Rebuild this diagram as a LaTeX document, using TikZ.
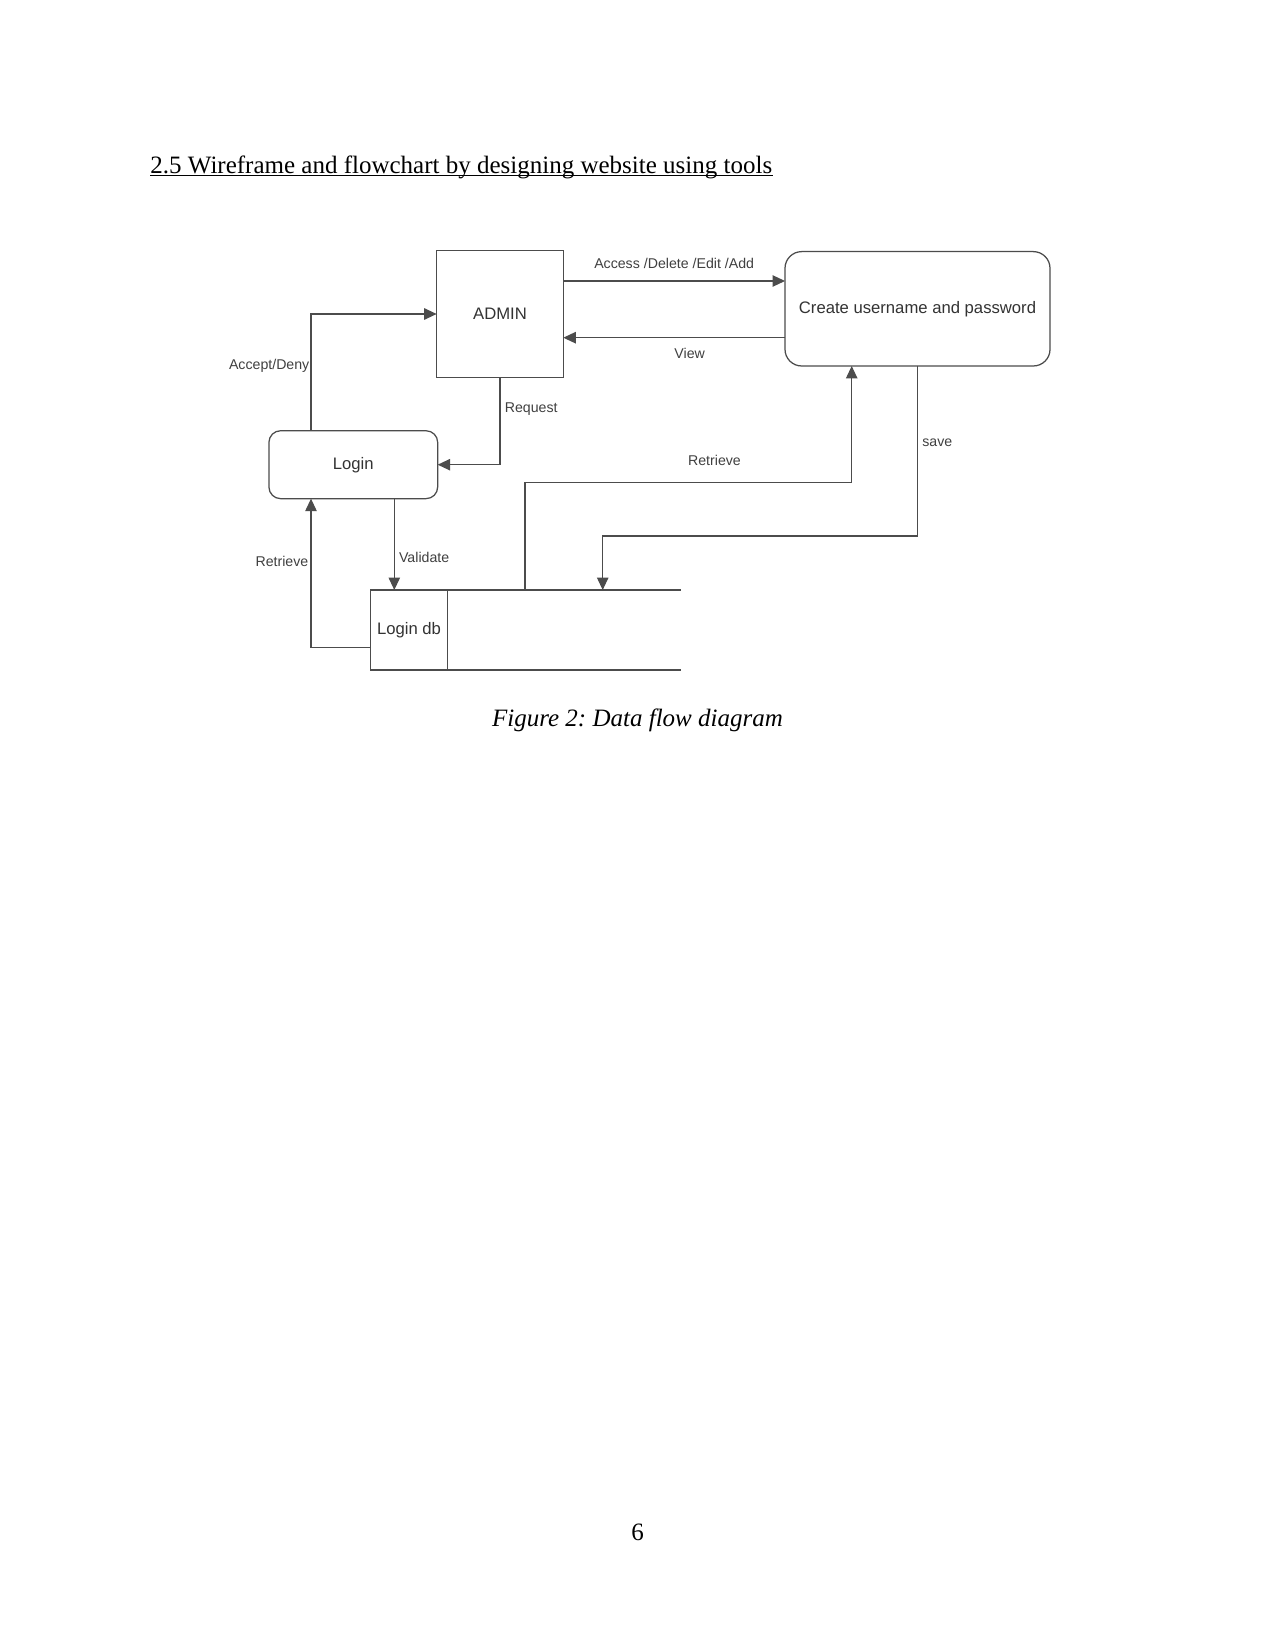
\documentclass[tikz,border=0pt]{standalone}
\usepackage{fontspec}
\setmainfont{Liberation Serif}
\newfontfamily\diagfont{Liberation Sans}
\usetikzlibrary{arrows.meta}
\frenchspacing

\begin{document}
\begin{tikzpicture}[x=0.48pt, y=-0.48pt, >={Triangle[length=6pt,width=5.5pt]}]
  \tikzstyle{line} = [draw=black!70, line width=0.6pt]
  \tikzstyle{arr}  = [line, ->]
  \tikzstyle{box}  = [line, inner sep=0pt, outer sep=0pt, align=center,
                      font=\diagfont\fontsize{8}{9.5}\selectfont, text=black!80]
  \tikzstyle{lbl}  = [font=\diagfont\fontsize{6.8}{8}\selectfont, text=black!75]

  % page
  \useasboundingbox[fill=white] (0,0) rectangle (1275,1650);

  \node[anchor=base west, inner sep=0pt, font=\fontsize{12}{14}\selectfont] (title)
    at (150,173.3) {2.5 Wireframe and flowchart by designing website using tools};
  \draw[line width=0.55pt] ([yshift=-1.1pt]title.base west) -- ([yshift=-1.1pt]title.base east);

  % blocks
  \node[box, minimum width=60.8pt, minimum height=60.8pt] (admin) at (500,314) {ADMIN};
  \node[box, rounded corners=8pt, minimum width=127.2pt, minimum height=54.9pt]
    (create) at (917.5,308.8) {Create username and password};
  \node[box, rounded corners=5.6pt, minimum width=81pt, minimum height=32.6pt]
    (login) at (353.3,464.7) {Login};
  \node[box, minimum width=36.8pt, minimum height=38.4pt] (db) at (409,630) {Login db};

  % open data store
  \coordinate (dbend) at (680.7,630);
  \coordinate (dbout) at (525,590);
  \coordinate (dbin) at (602.7,590);
  \draw[line] (db.north east) -- (dbend |- db.north);
  \draw[line] (db.south east) -- (dbend |- db.south);

  % admin <-> create
  \draw[arr] (admin.east |- 0,281) -- node[lbl, above=2.5pt] {Access /Delete /Edit /Add} (create.west |- 0,281);
  \draw[arr] (create.west |- 0,337.7) -- node[lbl, pos=0.43, below=1.5pt] {View} (admin.east |- 0,337.7);

  % login <-> admin
  \draw[arr] (login.north -| 311,0) |- node[lbl, pos=0.28, left, inner sep=0.5pt] {Accept/Deny} (admin.west);
  \draw[arr] (admin.south) |- node[lbl, pos=0.18, right, inner sep=2pt] {Request} (login.east);

  % login <-> db
  \draw[arr] (login.south -| 394.3,0) -- node[lbl, pos=0.64, right, inner sep=2pt] {Validate} (db.north -| 394.3,0);
  \draw[arr] (db.west |- 0,647.7) -| node[lbl, pos=0.79, left, inner sep=1pt] {Retrieve} (login.south -| 311,0);

  % db <-> create
  \draw[arr] (dbout) -- (dbout |- 0,482.3) -| node[lbl, pos=0.29, above=4.5pt] {Retrieve} (create.south -| 851.7,0);
  \draw[arr] (create.south) |- node[lbl, pos=0.225, right, inner sep=2pt] {save} (dbin |- 0,536) -- (dbin);

  \node[anchor=base, inner sep=0pt, font=\itshape\fontsize{12}{14}\selectfont] (caption)
    at (637.5,726.7) {Figure 2: Data flow diagram};
  \node[anchor=base, inner sep=0pt, font=\fontsize{12}{14}\selectfont] (pagenum) at (637.5,1540) {6};
\end{tikzpicture}
\end{document}
